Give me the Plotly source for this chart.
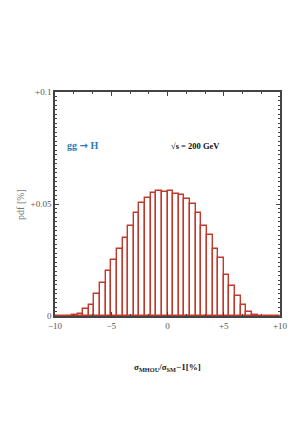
import plotly.graph_objects as go

bin_left = [-10 + 0.5 * i for i in range(40)]
pdf_values = [0, 0, 0, 0.0003, 0.0007, 0.0030, 0.0049, 0.0097, 0.0146, 0.0200,
              0.0249, 0.0301, 0.0348, 0.0402, 0.0460, 0.0503, 0.0527, 0.0551, 0.0557, 0.0555,
              0.0558, 0.0545, 0.0540, 0.0524, 0.0500, 0.0458, 0.0401, 0.0361, 0.0301, 0.0261,
              0.0183, 0.0136, 0.0090, 0.0049, 0.0020, 0.0006, 0.0002, 0, 0, 0]
bin_centers = [b + 0.25 for b in bin_left]

x_tickvals = [-10, -5, 0, 5, 10]
x_ticktext = ["\u221210", "\u22125", "0", "+5", "+10"]
y_tickvals = [0, 0.05, 0.1]
y_ticktext = ["0", "+0.05", "+0.1"]

serif = "Liberation Serif, DejaVu Serif, serif"

fig = go.Figure()
fig.add_trace(go.Bar(
    x=bin_centers, y=pdf_values, width=0.5,
    marker=dict(color="rgba(255,255,255,0)", line=dict(color="#c0392b", width=1.4)),
    showlegend=False,
))
fig.add_trace(go.Scatter(
    x=[-10, -8.5], y=[0, 0], mode="lines", line=dict(color="#c0392b", width=1.6),
    showlegend=False, hoverinfo="skip"))
fig.add_trace(go.Scatter(
    x=[8.5, 10], y=[0, 0], mode="lines", line=dict(color="#c0392b", width=1.6),
    showlegend=False, hoverinfo="skip"))

axis_common = dict(
    showline=True, linecolor="#444", linewidth=1.5, mirror="ticks", automargin=False,
    ticks="inside", tickcolor="#444", tickwidth=1, showgrid=False, zeroline=False,
    tickfont=dict(family=serif, size=9, color="#555"),
)
fig.update_xaxes(
    range=[-10, 10], tickvals=x_tickvals, ticktext=x_ticktext, ticklen=4,
    minor=dict(dtick=5/3, tick0=-10, ticks="inside", ticklen=2.5, tickcolor="#444", showgrid=False),
    **axis_common)
fig.update_yaxes(
    range=[0, 0.1], tickvals=y_tickvals, ticktext=y_ticktext, ticklen=4,
    minor=dict(dtick=0.002, tick0=0, ticks="inside", ticklen=2, tickcolor="#444", showgrid=False),
    **axis_common)

fig.add_annotation(xref="paper", yref="paper", x=0.502, y=-0.228,
                   text="<b>\u03c3<sub>MHOU</sub>/\u03c3<sub>SM</sub>\u22121[%]</b>",
                   showarrow=False, xanchor="center", yanchor="middle",
                   font=dict(family=serif, size=9, color="#222"))
fig.add_annotation(xref="paper", yref="paper", x=-0.156, y=0.5, text="pdf [%]",
                   textangle=-90, showarrow=False, xanchor="center", yanchor="middle",
                   font=dict(family=serif, size=10, color="#777"))

fig.add_annotation(x=-9.1, y=0.076,
                   text="<b>gg <span style='font-family:DejaVu Sans'>\u2192</span> H</b>",
                   showarrow=False, xanchor="left",
                   font=dict(family=serif, size=10, color="#2b7bba"))
fig.add_annotation(x=0.1, y=0.076, text="<b>\u221as = 200 GeV</b>", showarrow=False,
                   xanchor="left", font=dict(family=serif, size=8.5, color="#111"))

fig.update_layout(
    width=298, height=425, margin=dict(l=47, r=26, t=84, b=117),
    plot_bgcolor="white", paper_bgcolor="white", bargap=0,
)
fig.write_html("out.html")
